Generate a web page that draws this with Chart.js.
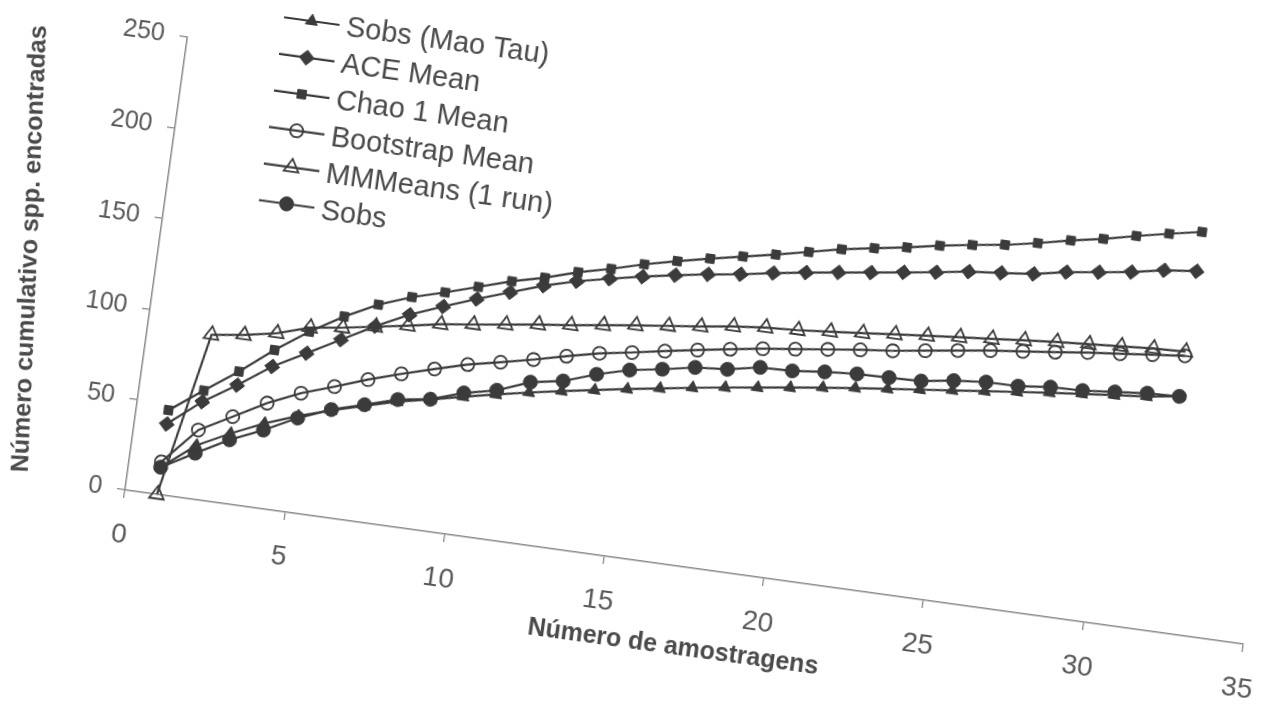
<!DOCTYPE html>
<html>
<head>
<meta charset="utf-8">
<script src="https://cdn.jsdelivr.net/npm/chart.js@4.4.1/dist/chart.umd.min.js"></script>
<style>
  html, body { margin: 0; padding: 0; background: #fff; width: 1285px; height: 713px; overflow: hidden; }
  #frame {
    position: absolute; left: -75px; top: -27px; width: 1364px; height: 618px;
    transform-origin: 200px 517px; transform: rotate(7.85deg);
  }
  canvas { display: block; }
</style>
</head>
<body>
<div id="frame"><canvas id="curves" width="1364" height="618"></canvas></div>
<script>
// Accumulation curves: number of samples vs cumulative species
const samples = [1, 2, 3, 4, 5, 6, 7, 8, 9, 10, 11, 12, 13, 14, 15, 16,
                 17, 18, 19, 20, 21, 22, 23, 24, 25, 26, 27, 28, 29, 30, 31, 32];

const sobsMaoTau = [15, 29.5, 38.5, 46.5, 53, 58.5, 63.5, 68.3, 71.8, 75.8, 79.5, 83, 86.2, 89.2, 92.2, 95,
                    97.8, 100.4, 102.8, 105.2, 107.6, 109.8, 111.8, 113.8, 115.8, 117.8, 119.8, 121.8, 123.6, 125.3, 127, 129.5];
const aceMean = [38.9, 53.6, 65.2, 77.9, 87.7, 97.6, 107.5, 116.2, 123.2, 129.8, 135.9, 142, 146.9, 150.7, 154.3, 157.5,
                 160.4, 162.9, 166, 168.7, 171.2, 173.6, 176.1, 178.6, 181.4, 183.1, 185, 188.4, 190.8, 193.3, 196.7, 198.6];
const chao1Mean = [46.5, 59.8, 72.7, 87, 99.6, 110.4, 119.4, 126, 131, 136.5, 142, 146.4, 151.9, 156.2, 161.1, 165.3,
                   169.1, 172.7, 176.2, 180.1, 184, 187, 189.9, 193.3, 196.1, 198.6, 202, 205.9, 209.2, 213.2, 216.9, 220.3];
const bootstrapMean = [18, 38, 47.8, 57.7, 65.6, 71.7, 78, 83.6, 88.7, 93.6, 97.3, 101.2, 105.5, 109.5, 112.4, 115.6,
                       118.6, 121.5, 124.2, 126.4, 128.7, 130.9, 132.8, 135.3, 137.8, 140.2, 142.2, 144.2, 146.4, 148.2, 150.1, 151.9];
const mmMeans = [0, 90.6, 92.9, 96.3, 101.8, 104.2, 107.2, 110.2, 113.4, 115.7, 118.1, 120.6, 122.6, 125.1, 127.4, 129.5,
                 131.6, 134.1, 135.9, 136.9, 138.5, 140.1, 141.9, 143.5, 145.2, 146.7, 148.3, 149.8, 151, 152.3, 153.5, 154.2];
const sobs = [15, 25.2, 35, 42.8, 51.9, 59, 64.1, 69.4, 72, 77.9, 81.8, 88.7, 91.8, 97.9, 102.7, 105.6,
              109, 110.4, 113.9, 114.4, 116.3, 117.6, 118, 118.5, 121.2, 122.8, 123, 124.9, 125.4, 127.1, 128.8, 129.5];

const seriesNames = ['Sobs (Mao Tau)', 'ACE Mean', 'Chao 1 Mean', 'Bootstrap Mean', 'MMMeans (1 run)', 'Sobs'];
const xTicks = { min: 0, max: 35, step: 5 };
const yTicks = { min: 0, max: 250, step: 50 };
const xTitle = 'Número de amostragens';
const yTitle = 'Número cumulativo spp. encontradas';

const INK = '#3b3b3b';
const AXIS = '#8a8a8a';
const TEXT = '#4a4a4a';
const TICK_TEXT = '#595959';
const NONE = 'rgba(0,0,0,0)';
const FONT = '"Liberation Sans", Arial, sans-serif';

function pairs(values) {
  return samples.map((s, i) => ({ x: s, y: values[i] }));
}

function series(label, values, style, radius, filled) {
  return {
    label,
    data: pairs(values),
    borderColor: INK,
    borderWidth: 2.2,
    pointStyle: style,
    pointRadius: radius,
    pointHoverRadius: radius,
    pointBorderWidth: filled ? 1 : 1.8,
    pointBorderColor: INK,
    pointBackgroundColor: filled ? INK : NONE,
    fill: false,
    tension: 0,
    clip: false
  };
}

const datasets = [
  series(seriesNames[0], sobsMaoTau, 'triangle', 7, true),
  series(seriesNames[1], aceMean, 'rectRot', 7.5, true),
  series(seriesNames[2], chao1Mean, 'rect', 6.2, true),
  series(seriesNames[3], bootstrapMean, 'circle', 6.5, false),
  series(seriesNames[4], mmMeans, 'triangle', 8.5, false),
  series(seriesNames[5], sobs, 'circle', 7, true)
];

// Key drawn as a single column near the top-left of the plot, plus the vertical axis title
const keyAndTitle = {
  id: 'keyAndTitle',
  afterDraw(chart) {
    const ctx = chart.ctx;
    const area = chart.chartArea;
    const kx = area.left + 121;
    const ky = area.bottom - 490;
    const step = 36.9;
    ctx.save();
    chart.data.datasets.forEach((ds, i) => {
      const y = ky + i * step;
      ctx.strokeStyle = ds.borderColor;
      ctx.lineWidth = ds.borderWidth;
      ctx.beginPath();
      ctx.moveTo(kx - 28, y);
      ctx.lineTo(kx + 28, y);
      ctx.stroke();
      ctx.fillStyle = ds.pointBackgroundColor;
      ctx.strokeStyle = ds.pointBorderColor;
      ctx.lineWidth = ds.pointBorderWidth;
      Chart.helpers.drawPoint(ctx, {
        pointStyle: ds.pointStyle, radius: ds.pointRadius,
        borderWidth: ds.pointBorderWidth, rotation: 0
      }, kx, y);
      ctx.fillStyle = TEXT;
      ctx.font = '29px ' + FONT;
      ctx.textBaseline = 'middle';
      ctx.textAlign = 'left';
      ctx.fillText(ds.label, kx + 35, y + 2);
    });

    ctx.translate(area.left - 127, area.bottom - 226);
    ctx.rotate(-Math.PI / 2 - 5.5 * Math.PI / 180);
    ctx.font = 'bold 25px ' + FONT;
    ctx.fillStyle = TEXT;
    ctx.textAlign = 'center';
    ctx.textBaseline = 'middle';
    ctx.fillText(yTitle, 0, 0);
    ctx.restore();
  }
};

new Chart(document.getElementById('curves'), {
  type: 'line',
  data: { datasets },
  plugins: [keyAndTitle],
  options: {
    responsive: false,
    animation: false,
    events: [],
    layout: { padding: { top: 60, right: 25, bottom: 0, left: 0 } },
    plugins: { legend: { display: false }, tooltip: { enabled: false } },
    scales: {
      x: {
        type: 'linear',
        min: xTicks.min, max: xTicks.max,
        afterFit(scale) { scale.height = 101; },
        ticks: {
          stepSize: xTicks.step, autoSkip: false, maxRotation: 0, padding: 20,
          color: TICK_TEXT, font: { family: FONT, size: 28 }
        },
        grid: { display: true, drawOnChartArea: false, drawTicks: true, tickLength: 8, color: AXIS, lineWidth: 1.3 },
        border: { display: true, color: AXIS, width: 1.5 },
        title: {
          display: true, text: xTitle, color: TEXT,
          font: { family: FONT, size: 25, weight: 'bold' },
          padding: { top: 0, bottom: 5 }
        }
      },
      y: {
        type: 'linear',
        min: yTicks.min, max: yTicks.max,
        afterFit(scale) { scale.width = 200; },
        ticks: {
          stepSize: yTicks.step, padding: 15,
          color: TICK_TEXT, font: { family: FONT, size: 25 }
        },
        grid: { display: true, drawOnChartArea: false, drawTicks: true, tickLength: 8, color: AXIS, lineWidth: 1.3 },
        border: { display: true, color: AXIS, width: 1.5 }
      }
    }
  }
});
</script>
</body>
</html>
